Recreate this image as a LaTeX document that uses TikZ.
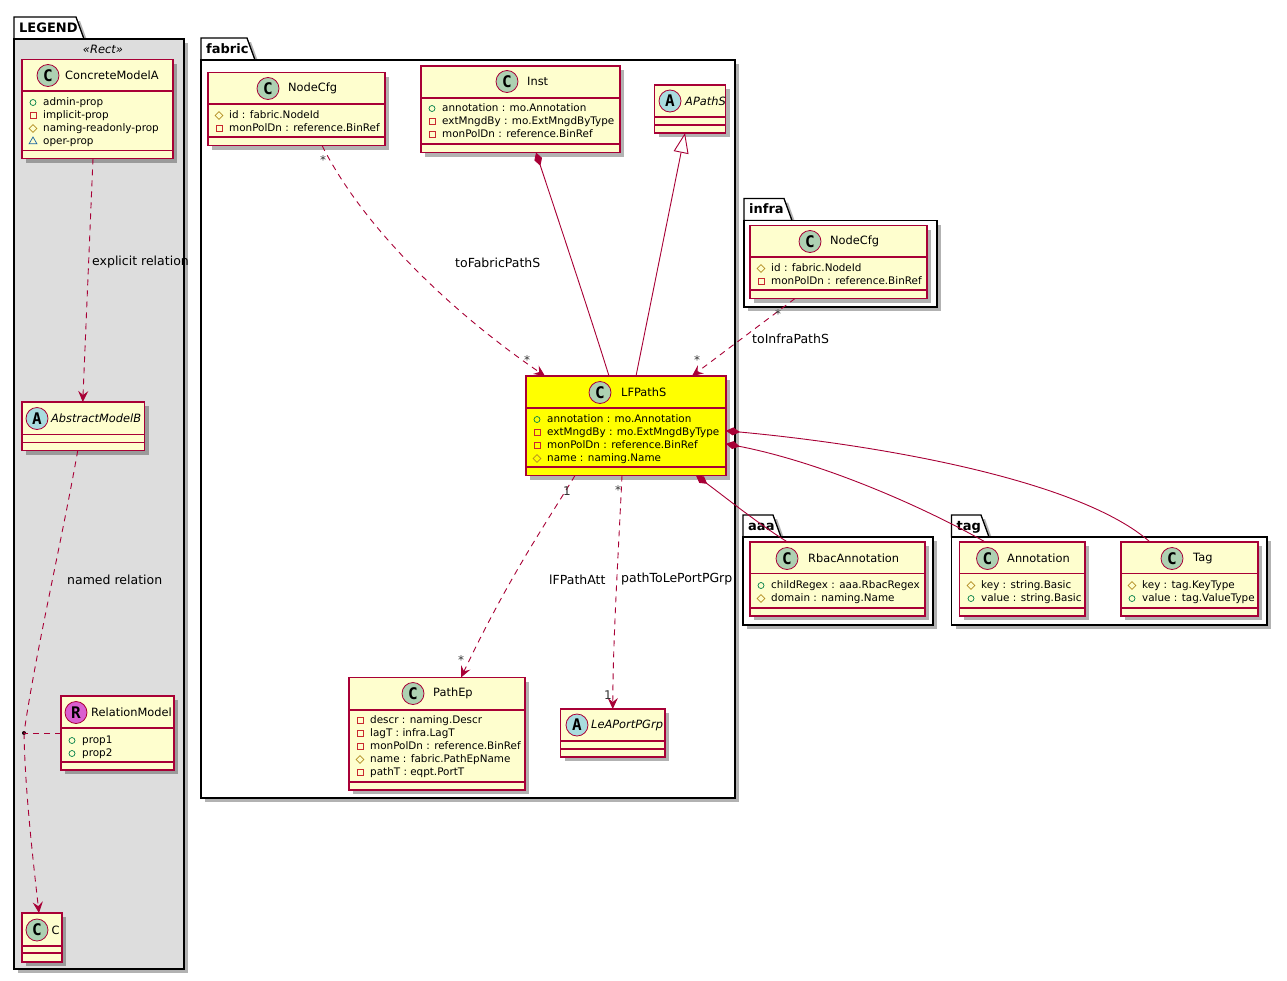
\documentclass[tikz,border=0pt]{standalone}
\usepackage{fontspec}
\setmainfont{DejaVu Sans}
\setsansfont{DejaVu Sans}
\setmonofont{DejaVu Sans Mono}
\usepackage{tikz}
\usetikzlibrary{arrows.meta,calc,shadows,shapes.geometric}
\usepackage{xcolor}
\definecolor{crim}{HTML}{A80036}
\definecolor{cream}{HTML}{FEFECE}
\definecolor{hilite}{HTML}{FFFF00}
\definecolor{legendgray}{HTML}{DDDDDD}
\definecolor{badgeC}{HTML}{ADD1B2}
\definecolor{badgeA}{HTML}{A9DCDF}
\definecolor{badgeR}{HTML}{DA5FD0}
\definecolor{pubC}{HTML}{038048}
\definecolor{privC}{HTML}{C82930}
\definecolor{roC}{HTML}{B38D22}
\definecolor{operC}{HTML}{1963A0}
\tikzset{
  boxshadow/.style={drop shadow={shadow xshift=4pt,shadow yshift=-4pt,fill=black,opacity=.3}},
  cls/.style={draw=crim,line width=1.2pt,fill=cream,rectangle,inner sep=0pt,outer sep=0pt,boxshadow},
  pkg/.style={draw=black,line width=1.3pt,fill=white,rectangle,inner sep=0pt,outer sep=0pt,boxshadow},
  pkgtab/.style={draw=black,line width=1.3pt,fill=white,boxshadow},
  pkgname/.style={inner sep=0pt,anchor=west,font=\fontsize{13}{15}\selectfont\bfseries,text height=10pt,text depth=2pt},
  sepline/.style={draw=crim,line width=1.1pt},
  badge/.style={circle,draw=crim,line width=.8pt,minimum size=22pt,inner sep=0pt,font=\fontsize{16}{17}\selectfont\ttfamily\bfseries},
  title/.style={inner sep=0pt,font=\fontsize{11.4}{14}\selectfont},
  mtext/.style={inner sep=0pt,anchor=west,font=\fontsize{10.4}{12}\selectfont,text height=8pt,text depth=2pt},
  pubm/.style={circle,draw=pubC,minimum size=6pt,inner sep=0pt,line width=.7pt},
  privm/.style={rectangle,draw=privC,minimum size=6pt,inner sep=0pt,line width=.7pt},
  rom/.style={diamond,draw=roC,minimum size=8pt,inner sep=0pt,line width=.7pt},
  operm/.style={regular polygon,regular polygon sides=3,draw=operC,minimum size=9pt,inner sep=0pt,line width=.7pt},
  lbl/.style={inner sep=0pt,anchor=west,font=\fontsize{12.5}{14}\selectfont},
  mult/.style={inner sep=0pt,font=\fontsize{12}{14}\selectfont,text=black!80},
  dep/.style={draw=crim,line width=.9pt,dash pattern=on 6pt off 5pt,-{Stealth[length=11pt,width=10pt,inset=4pt]}},
  reldash/.style={draw=crim,line width=.9pt,dash pattern=on 6pt off 5pt},
  comp/.style={draw=crim,line width=.9pt,{Diamond[length=14pt,width=8pt]}-},
  inherit/.style={draw=crim,line width=.9pt,{Triangle[open,length=20pt,width=15pt,fill=white]}-},
  reldot/.style={circle,fill=black,minimum size=4pt,inner sep=0pt},
}
% name, x1, y1, x2, y2, sep1, sep2
\newcommand{\classbox}[8][]{
  \node[cls,#1,minimum width={#5-#3},minimum height={#6-#4}] (#2) at ({(#3+#5)/2},{(#4+#6)/2}) {};
  \draw[sepline] (#3,#7) -- (#5,#7) (#3,#8) -- (#5,#8);
}
% name, letter, colour, badge x, y, title x, title
\newcommand{\classhead}[7]{
  \node[badge,fill=#3] (#1-badge) at (#4,#5) {#2};
  \node[title,anchor=west] (#1-title) at (#6,#5) {#7};
}
% name, icon x, text x, first y, members
\newcommand{\members}[5]{
  \foreach \kind/\txt [count=\k] in {#5} {
    \node[\kind] (#1-i\k) at (#2,{#4+(\k-1)*13}) {};
    \node[mtext] (#1-m\k) at (#3,{#4+(\k-1)*13}) {\txt};
  }
}
% name, x1, y1, x2, y2, tab end x, title
\newcommand{\pkgbox}[8][white]{
  \draw[pkgtab] (#3,#4) -- (#3,{#4-22}) -- (#7,{#4-22}) -- ({#7+8},#4) -- cycle;
  \node[pkg,fill=#1,minimum width={#5-#3},minimum height={#6-#4}] (#2) at ({(#3+#5)/2},{(#4+#6)/2}) {};
  \node[pkgname] (#2-name) at ({#3+5},{#4-11}) {#8};
}
\begin{document}
\begin{tikzpicture}[x=1pt,y=-1pt]
  \useasboundingbox (0,0) rectangle (1287,980);
  % packages
  \pkgbox[legendgray]{legend}{14}{39}{184}{969}{76}{LEGEND}
  \pkgbox{fabric}{201}{60}{735}{798}{247}{fabric}
  \pkgbox{infra}{744}{220.5}{937}{307}{784}{infra}
  \pkgbox{aaa}{743}{537}{933}{625}{773}{aaa}
  \pkgbox{tagpkg}{951.5}{537}{1267}{625}{981}{tag}
  \node[inner sep=0pt,font=\fontsize{11.5}{13}\selectfont\itshape] (rectnote) at (103,49) {«Rect»};

  % legend classes
  \classbox{concrete}{22}{59.5}{173}{158.5}{91}{150.5}
  \classhead{concrete}{C}{badgeC}{48}{75.5}{65}{ConcreteModelA}
  \members{concrete}{33}{43}{102.5}{pubm/admin-prop,privm/implicit-prop,rom/naming-readonly-prop,operm/oper-prop}
  \classbox{abstr}{22}{402}{144.5}{450.5}{434.5}{442.5}
  \classhead{abstr}{A}{badgeA}{37}{418.5}{51}{\itshape AbstractModelB}
  \classbox{relm}{61}{696}{174}{770}{728}{762}
  \classhead{relm}{R}{badgeR}{76}{712.5}{91}{RelationModel}
  \members{relm}{72}{82}{740.5}{pubm/prop1,pubm/prop2}
  \classbox{cnode}{22}{913}{62}{962}{946}{953}
  \classhead{cnode}{C}{badgeC}{37}{930}{51.5}{C}

  % fabric classes
  \classbox{fabcfg}{208}{72.5}{385}{145.5}{104}{137}
  \classhead{fabcfg}{C}{badgeC}{268}{88.5}{288}{NodeCfg}
  \members{fabcfg}{219}{229}{115.5}{rom/id : fabric.NodeId,privm/monPolDn : reference.BinRef}
  \classbox{inst}{421}{66}{620}{152.5}{98}{144}
  \classhead{inst}{C}{badgeC}{507}{81.5}{527}{Inst}
  \members{inst}{432}{442}{108.5}{pubm/annotation : mo.Annotation,privm/extMngdBy : mo.ExtMngdByType,privm/monPolDn : reference.BinRef}
  \classbox{apaths}{654.5}{85}{725.5}{133}{117}{125}
  \classhead{apaths}{A}{badgeA}{670}{101}{685}{\itshape APathS}
  \classbox[fill=hilite]{lfpaths}{526}{376}{726}{475.5}{408}{467}
  \classhead{lfpaths}{C}{badgeC}{600}{392.5}{621}{LFPathS}
  \members{lfpaths}{537}{547}{419.5}{pubm/annotation : mo.Annotation,privm/extMngdBy : mo.ExtMngdByType,privm/monPolDn : reference.BinRef,rom/name : naming.Name}
  \classbox{pathep}{349}{677.5}{525}{790}{710}{782}
  \classhead{pathep}{C}{badgeC}{413}{693.5}{433}{PathEp}
  \members{pathep}{360}{370}{720.5}{privm/descr : naming.Descr,privm/lagT : infra.LagT,privm/monPolDn : reference.BinRef,rom/name : fabric.PathEpName,privm/pathT : eqpt.PortT}
  \classbox{leaport}{560.5}{709}{665}{757}{741}{749}
  \classhead{leaport}{A}{badgeA}{577}{725}{591}{\itshape LeAPortPGrp}

  % other packages
  \classbox{infracfg}{750}{225.5}{927}{298.5}{257}{290}
  \classhead{infracfg}{C}{badgeC}{810}{241.5}{830}{NodeCfg}
  \members{infracfg}{761}{771}{268.5}{rom/id : fabric.NodeId,privm/monPolDn : reference.BinRef}
  \classbox{rbac}{750}{542}{925}{616}{573.5}{608}
  \classhead{rbac}{C}{badgeC}{787}{558.5}{808}{RbacAnnotation}
  \members{rbac}{761}{771}{585.5}{pubm/childRegex : aaa.RbacRegex,rom/domain : naming.Name}
  \classbox{annot}{959.5}{542}{1085}{616}{573.5}{608}
  \classhead{annot}{C}{badgeC}{987.5}{558.5}{1007}{Annotation}
  \members{annot}{971}{981}{585.5}{rom/key : string.Basic,pubm/value : string.Basic}
  \classbox{tagcls}{1121}{542}{1258}{616}{573.5}{608}
  \classhead{tagcls}{C}{badgeC}{1172}{558.5}{1193}{Tag}
  \members{tagcls}{1132}{1142}{585.5}{rom/key : tag.KeyType,pubm/value : tag.ValueType}

  % relations
  \draw[dep] ([xshift=-4.5pt]concrete.south) -- ([xshift=-0.5pt]abstr.north);
  \node[lbl] (explicit) at (92,262.5) {explicit relation};
  \node[reldot] (reldotA) at (24,733) {};
  \draw[reldash] ([xshift=-5.5pt]abstr.south) .. controls (62,540) and (36,650) .. (reldotA.center);
  \draw[dep] (reldotA.center) .. controls (25,790) and (33,860) .. ([xshift=-3pt]cnode.north);
  \draw[reldash] (relm.west) -- (reldotA.center);
  \node[lbl] (named) at (67,579.5) {named relation};

  \draw[dep] ([xshift=25.5pt]fabcfg.south) .. controls (370,240) and (470,325) .. ([xshift=-81pt]lfpaths.north);
  \node[lbl] (tofabric) at (455,262.5) {toFabricPathS};
  \node[mult] (m1) at (323,160) {*};
  \node[mult] (m2) at (527,360) {*};
  \draw[comp] ([xshift=15.5pt]inst.south) .. controls (560,225) and (590,315) .. ([xshift=-17pt]lfpaths.north);
  \draw[inherit] ([xshift=-5pt]apaths.south) -- ([xshift=10pt]lfpaths.north);
  \draw[dep] ([xshift=-43.5pt]infracfg.south) -- ([xshift=66pt]lfpaths.north);
  \node[lbl] (toinfra) at (752,338.5) {toInfraPathS};
  \node[mult] (m3) at (778,314) {*};
  \node[mult] (m4) at (697,360) {*};
  \draw[dep] ([xshift=-51pt]lfpaths.south) .. controls (545,525) and (510,575) .. ([xshift=24pt]pathep.north);
  \node[lbl] (lfatt) at (549,579.5) {lFPathAtt};
  \node[mult] (m5) at (567,491) {1};
  \node[mult] (m6) at (461,660) {*};
  \draw[dep] ([xshift=-4pt]lfpaths.south) .. controls (618,560) and (613,640) .. (leaport.north);
  \node[lbl] (topgrp) at (621,579.5) {pathToLePortPGrp};
  \node[mult] (m7) at (618,490) {*};
  \node[mult] (m8) at (608,695) {1};
  \draw[comp] ([xshift=70pt]lfpaths.south) .. controls (725,497) and (760,525) .. ([xshift=-50pt]rbac.north);
  \draw[comp] ([yshift=-18pt]lfpaths.east) .. controls (820,462) and (920,505) .. ([xshift=-37pt]annot.north);
  \draw[comp] ([yshift=-5pt]lfpaths.east) .. controls (880,445) and (1080,480) .. ([xshift=-39.5pt]tagcls.north);
\end{tikzpicture}
\end{document}
